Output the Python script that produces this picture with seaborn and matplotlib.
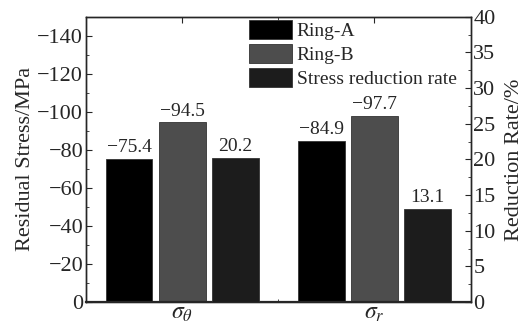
import matplotlib
matplotlib.use("Agg")
import matplotlib.pyplot as plt
from matplotlib.patches import Patch
from matplotlib.ticker import MultipleLocator
import pandas as pd
import seaborn as sns

# ---------------------------------------------------------------------------
# data
categories = [r"$\sigma_\theta$", r"$\sigma_r$"]
series = ["Ring-A", "Ring-B", "Stress reduction rate"]
ring_a = [-75.4, -84.9]
ring_b = [-94.5, -97.7]
reduction_rate = [20.2, 13.1]
colors = {"Ring-A": "#000000", "Ring-B": "#4d4d4d", "Stress reduction rate": "#1c1c1c"}

sns.set_style("ticks")
plt.rcParams.update({
    "font.family": ["Liberation Serif", "DejaVu Serif"],
    "mathtext.fontset": "stix",
    "font.size": 14,
    "axes.linewidth": 1.0,
})

# every series gets a slot in each axis so the dodge keeps three bars per group;
# the series that belongs to the other axis is given zero height and hidden
stress_df = pd.DataFrame({
    "cat": categories * 3,
    "series": [s for s in series for _ in categories],
    "value": ring_a + ring_b + [0.0, 0.0],
})
rate_df = pd.DataFrame({
    "cat": categories * 3,
    "series": [s for s in series for _ in categories],
    "value": [0.0, 0.0, 0.0, 0.0] + reduction_rate,
})

fig = plt.figure(figsize=(5.3, 3.36), dpi=100)
ax = fig.add_axes([0.1623, 0.1012, 0.888 - 0.1623, 0.950 - 0.1012])
ax2 = ax.twinx()

bar_kw = dict(x="cat", y="value", hue="series", order=categories, hue_order=series,
              palette=colors, width=0.83, gap=0.12, edgecolor="#333333", linewidth=0.6,
              errorbar=None, legend=False, saturation=1)
sns.barplot(data=stress_df, ax=ax, **bar_kw)
sns.barplot(data=rate_df, ax=ax2, **bar_kw)


def annotate(axis):
    for cont in axis.containers:
        for bar in cont:
            h = bar.get_height()
            if h != h or h == 0:
                bar.set_visible(False)
                continue
            xc = bar.get_x() + bar.get_width() / 2
            axis.annotate(f"{h:.1f}".replace("-", "\u2212"), (xc, h), xytext=(0, 2),
                          textcoords="offset points", ha="center", va="bottom", fontsize=14)


annotate(ax)
annotate(ax2)

ax.set_xlim(-0.5, 1.5)
ax.set_ylim(0, -150)
ax2.set_ylim(0, 40)
ax.yaxis.set_major_locator(MultipleLocator(20))
ax.yaxis.set_minor_locator(MultipleLocator(10))
ax2.yaxis.set_major_locator(MultipleLocator(5))
ax2.yaxis.set_minor_locator(MultipleLocator(2.5))
ax.xaxis.set_minor_locator(MultipleLocator(0.5))

ax.set_xlabel("")
ax.set_ylabel("Residual Stress/MPa", fontsize=16, labelpad=2)
ax2.set_ylabel("Reduction Rate/%", fontsize=16, labelpad=7)
ax2.set_xlabel("")

ax.tick_params(axis="both", which="both", direction="in", top=True, labelsize=16)
ax.tick_params(axis="both", which="major", length=4, pad=2)
ax.tick_params(axis="both", which="minor", length=2)
ax.tick_params(axis="x", which="major", labelsize=17, pad=1)
ax2.tick_params(axis="y", which="both", direction="in", labelsize=16)
ax2.tick_params(axis="y", which="major", length=4, pad=2)
ax2.tick_params(axis="y", which="minor", length=2)
ax.spines["bottom"].set_linewidth(1.6)
for s in ax.spines.values():
    s.set_visible(True)

handles = [Patch(facecolor=colors[s], edgecolor="#333333", linewidth=0.6, label=s) for s in series]
ax2.legend(handles=handles, loc="upper right", frameon=False, fontsize=14,
           handlelength=2.2, handleheight=1.15, labelspacing=0.18, handletextpad=0.25,
           borderpad=0.1, borderaxespad=0.0, bbox_to_anchor=(0.968, 0.995))

fig.savefig("out.png", dpi=100)
